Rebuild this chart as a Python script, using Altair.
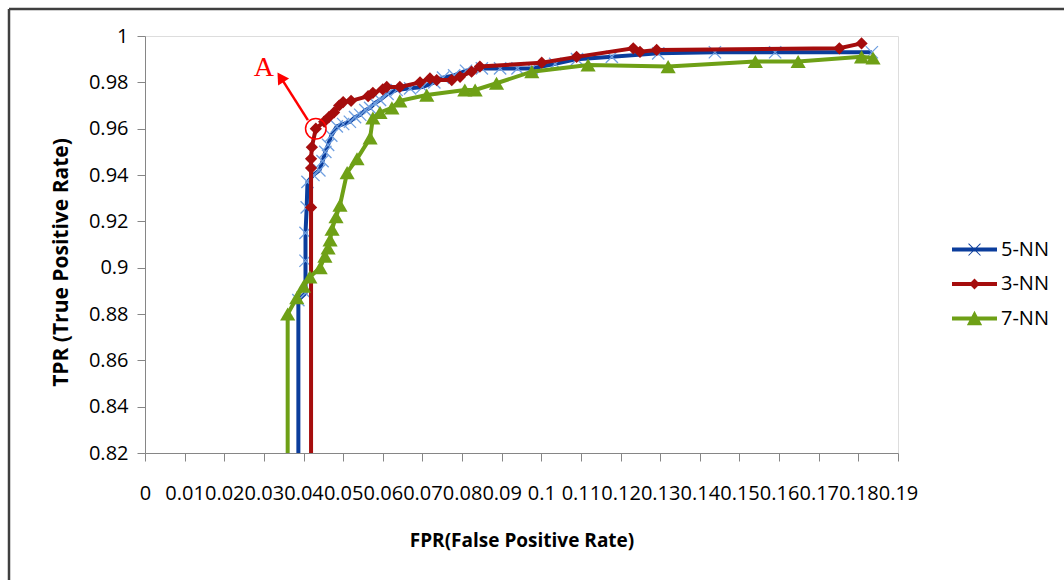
import altair as alt
import pandas as pd

# ---- data ----
series_names = ["5-NN", "3-NN", "7-NN"]
series_colors = ["#0b3d9c", "#a50d0d", "#6ea016"]

fpr_5nn = [0.0387, 0.0387, 0.0405, 0.0405, 0.0405, 0.0408, 0.0410, 0.0425, 0.0440, 0.0448,
           0.0455, 0.0462, 0.0470, 0.0484, 0.0500, 0.0517, 0.0530, 0.0543, 0.0556, 0.0568,
           0.0580, 0.0593, 0.0612, 0.0635, 0.0669, 0.0700, 0.0730, 0.0752, 0.0780, 0.0810,
           0.0850, 0.0896, 0.0940, 0.0976, 0.1035, 0.1090, 0.1178, 0.1295, 0.1438, 0.1590,
           0.1834]
tpr_5nn = [0.820, 0.886, 0.889, 0.903, 0.915, 0.926, 0.937, 0.940, 0.942, 0.946,
           0.950, 0.953, 0.957, 0.961, 0.962, 0.963, 0.965, 0.966, 0.968, 0.969,
           0.971, 0.9724, 0.975, 0.9767, 0.9774, 0.978, 0.980, 0.982, 0.983, 0.985,
           0.986, 0.986, 0.986, 0.986, 0.988, 0.990, 0.991, 0.9925, 0.993, 0.993,
           0.993]

fpr_3nn = [0.0419, 0.0419, 0.0419, 0.0419, 0.0421, 0.0431, 0.0452, 0.0464, 0.0477, 0.0490,
           0.0500, 0.0520, 0.0563, 0.0575, 0.0600, 0.0610, 0.0643, 0.0694, 0.0719, 0.0736,
           0.0774, 0.0795, 0.0824, 0.0845, 0.1001, 0.1089, 0.1232, 0.1249, 0.1291, 0.1752,
           0.1808]
tpr_3nn = [0.820, 0.926, 0.943, 0.947, 0.952, 0.960, 0.963, 0.965, 0.967, 0.970,
           0.9715, 0.972, 0.974, 0.9755, 0.977, 0.978, 0.978, 0.980, 0.9817, 0.981,
           0.981, 0.9824, 0.9846, 0.9868, 0.9885, 0.991, 0.9947, 0.9932, 0.994, 0.9947,
           0.9968]

fpr_7nn = [0.0360, 0.0360, 0.0383, 0.0400, 0.0416, 0.0442, 0.0454, 0.0462, 0.0467, 0.0472,
           0.0482, 0.0492, 0.0510, 0.0535, 0.0568, 0.0575, 0.0593, 0.0623, 0.0643, 0.0711,
           0.0807, 0.0833, 0.0887, 0.0976, 0.1118, 0.1320, 0.1540, 0.1648, 0.1808, 0.1837]
tpr_7nn = [0.820, 0.880, 0.887, 0.892, 0.896, 0.900, 0.905, 0.9085, 0.912, 0.9166,
           0.922, 0.927, 0.941, 0.947, 0.956, 0.9646, 0.967, 0.969, 0.972, 0.9745,
           0.9767, 0.9767, 0.9796, 0.9846, 0.9875, 0.9868, 0.989, 0.989, 0.991, 0.9905]

x_ticks = [0, 0.01, 0.02, 0.03, 0.04, 0.05, 0.06, 0.07, 0.08, 0.09, 0.1,
           0.11, 0.12, 0.13, 0.14, 0.15, 0.16, 0.17, 0.18, 0.19]
y_ticks = [0.82, 0.84, 0.86, 0.88, 0.9, 0.92, 0.94, 0.96, 0.98, 1]

# annotation "A" (point circled, arrow, label) in data units
circle_pt = {"fpr": [0.0431], "tpr": [0.960]}
arrow_seg = {"fpr": [0.0411], "tpr": [0.9637], "fpr2": [0.0340], "tpr2": [0.9828]}
arrow_head = {"fpr": [0.0342], "tpr": [0.9822]}
label_a = {"fpr": [0.0300], "tpr": [0.9862], "text": ["A"]}

# ---- build table ----
rows = []
for name, xs, ys in [("5-NN", fpr_5nn, tpr_5nn), ("3-NN", fpr_3nn, tpr_3nn), ("7-NN", fpr_7nn, tpr_7nn)]:
    for i, (a, b) in enumerate(zip(xs, ys)):
        rows.append({"series": name, "fpr": a, "tpr": b, "idx": i, "marker": 1 if b > 0.8201 else 0})
df = pd.DataFrame(rows)

FONT = "Open Sans"
xscale = alt.Scale(domain=[0, 0.19], nice=False, zero=False)
yscale = alt.Scale(domain=[0.82, 1.0], nice=False, zero=False)

xaxis = alt.Axis(values=x_ticks, format="~g", title="FPR(False Positive Rate)",
                 labelFlush=False, labelOverlap=False, labelBound=False, grid=False,
                 labelFont=FONT, labelFontSize=20, labelColor="#000000",
                 labelPadding=22, tickSize=8, tickColor="#868686",
                 domainColor="#868686", titleFont=FONT, titleFontSize=19,
                 titleFontWeight="bold", titleColor="#000000", titlePadding=28)
yaxis = alt.Axis(values=y_ticks, format="~g", title="TPR (True Positive  Rate)",
                 grid=False, labelFont=FONT, labelFontSize=20, labelColor="#000000",
                 labelOverlap=False, labelFlush=False,
                 labelPadding=9, tickSize=8, tickColor="#868686",
                 domainColor="#868686", titleFont=FONT, titleFontSize=21,
                 titleFontWeight="bold", titleColor="#000000",
                 titleX=-74, titleY=226)


def X(field="fpr:Q"):
    return alt.X(field, scale=xscale, axis=xaxis)


def Y(field="tpr:Q"):
    return alt.Y(field, scale=yscale, axis=yaxis)


base = alt.Chart(df)
layers = []

# 5-NN
layers.append(base.transform_filter(alt.datum.series == "5-NN").mark_line(
    color=series_colors[0], strokeWidth=4).encode(x=X(), y=Y(), order="idx:Q"))
layers.append(base.transform_filter((alt.datum.series == "5-NN") & (alt.datum.marker == 1)).mark_point(
    shape="M-1,-1L1,1M-1,1L1,-1", filled=False, color="#6f9fe0", strokeWidth=1.3, size=150,
    opacity=1).encode(x=X(), y=Y()))
# 3-NN
layers.append(base.transform_filter(alt.datum.series == "3-NN").mark_line(
    color=series_colors[1], strokeWidth=4).encode(x=X(), y=Y(), order="idx:Q"))
layers.append(base.transform_filter((alt.datum.series == "3-NN") & (alt.datum.marker == 1)).mark_point(
    shape="diamond", filled=True, color=series_colors[1], size=150, opacity=1).encode(x=X(), y=Y()))
# 7-NN
layers.append(base.transform_filter(alt.datum.series == "7-NN").mark_line(
    color=series_colors[2], strokeWidth=4).encode(x=X(), y=Y(), order="idx:Q"))
layers.append(base.transform_filter((alt.datum.series == "7-NN") & (alt.datum.marker == 1)).mark_point(
    shape="triangle-up", filled=True, color=series_colors[2], size=230, opacity=1).encode(x=X(), y=Y()))

# legend-only layer (no data drawn)
legend_paths = [
    "M-1,-0.085H1V0.085H-1Z M-0.25,-0.28L0.28,0.25L0.25,0.28L-0.28,-0.25Z M0.25,-0.28L0.28,-0.25L-0.25,0.28L-0.28,0.25Z",
    "M-1,-0.085H1V0.085H-1Z M0,-0.24L0.24,0L0,0.24L-0.24,0Z",
    "M-1,-0.085H1V0.085H-1Z M0,-0.34L0.34,0.3L-0.34,0.3Z",
]
leg = alt.Legend(title=None, orient="none", legendX=807, legendY=191,
                 symbolSize=2025, labelFont=FONT, labelFontSize=20,
                 labelColor="#000000", rowPadding=1.5, labelOffset=4,
                 padding=0, symbolStrokeWidth=0, symbolOpacity=1)
layers.append(base.transform_filter("false").mark_point(filled=True, opacity=1).encode(
    x=X(), y=Y(),
    color=alt.Color("series:N", scale=alt.Scale(domain=series_names, range=series_colors), legend=leg),
    shape=alt.Shape("series:N", scale=alt.Scale(domain=series_names, range=legend_paths), legend=leg),
))

# annotation
layers.append(alt.Chart(pd.DataFrame(circle_pt)).mark_point(
    shape="circle", filled=False, color="#ff0000", strokeWidth=1.5, size=420, opacity=1
).encode(x=X(), y=Y()))
layers.append(alt.Chart(pd.DataFrame(arrow_seg)).mark_rule(
    color="#ff0000", strokeWidth=2.5).encode(x=X(), y=Y(), x2="fpr2:Q", y2="tpr2:Q"))
layers.append(alt.Chart(pd.DataFrame(arrow_head)).mark_point(
    shape="triangle-up", filled=True, color="#ff0000", size=170, angle=327, opacity=1
).encode(x=X(), y=Y()))
layers.append(alt.Chart(pd.DataFrame(label_a)).mark_text(
    font="Liberation Serif", fontSize=28, color="#ff0000", align="center", baseline="middle"
).encode(x=X(), y=Y(), text="text:N"))

# outer frame
layers.append(alt.Chart(pd.DataFrame({"k": [0]})).mark_rule(color="#404040", strokeWidth=2.5).encode(
    x=alt.value(-136), x2=alt.value(940), y=alt.value(-27)))
layers.append(alt.Chart(pd.DataFrame({"k": [0]})).mark_rule(color="#404040", strokeWidth=2.5).encode(
    x=alt.value(-136), y=alt.value(-27), y2=alt.value(560)))

chart = alt.layer(*layers).properties(
    width=753, height=417,
    autosize=alt.AutoSizeParams(type="none"),
    padding={"left": 145, "top": 36, "right": 166, "bottom": 127},
).configure_view(stroke=None).configure(background="#ffffff")

chart.save("out.html", embed_options={"renderer": "svg", "actions": False})
